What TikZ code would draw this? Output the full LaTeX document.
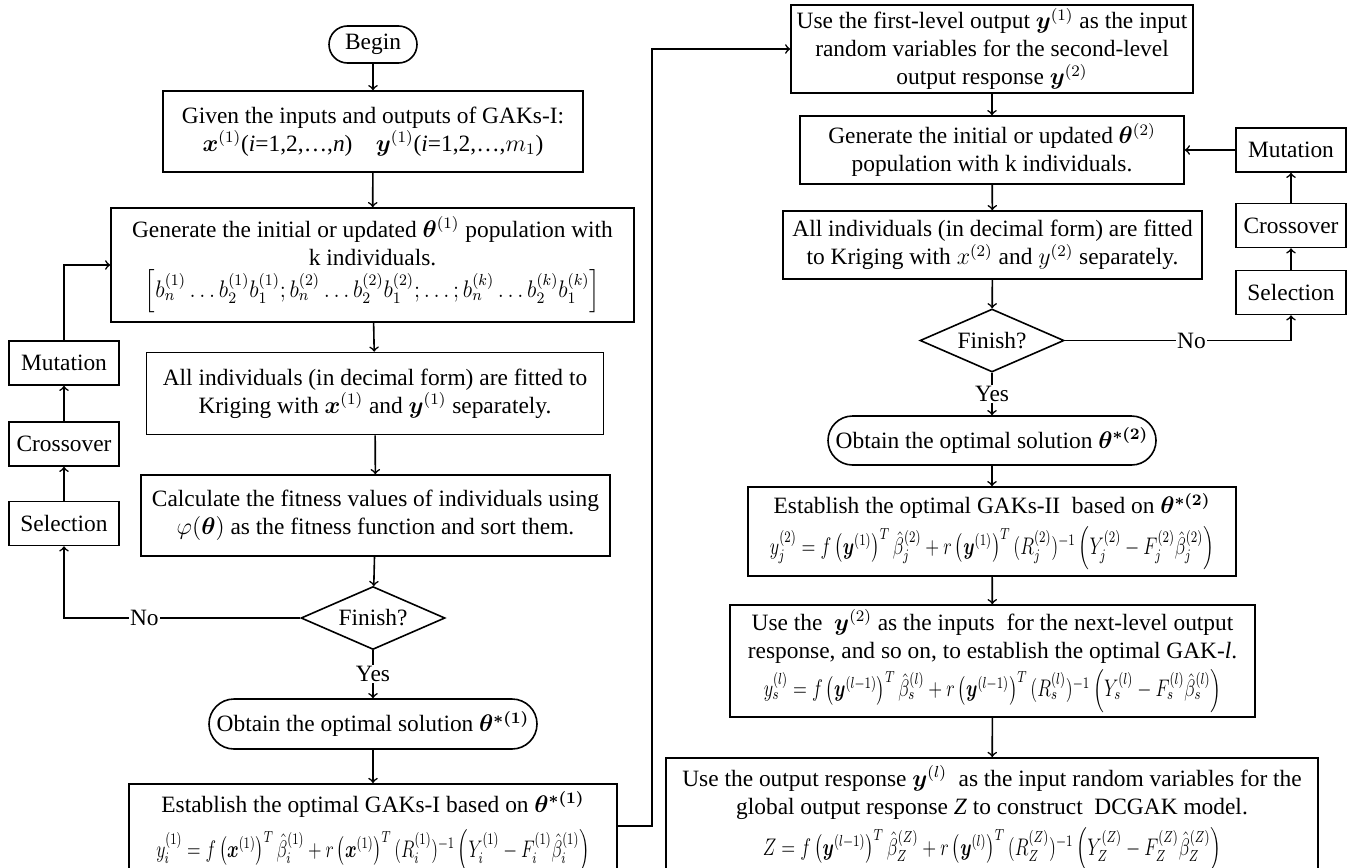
\documentclass[tikz,border=0pt]{standalone}
\usepackage{amsmath}
\usepackage{bm}
\usepackage{graphicx}
\usepackage{fontspec}
\setmainfont{Liberation Serif}
\usetikzlibrary{arrows,shapes.geometric,shapes.misc}
\newcommand{\narrowfm}[2][0.76]{\scalebox{#1}[1]{#2}}

\begin{document}
\begin{tikzpicture}[x=0.5pt,y=-0.5pt,line width=0.8pt,>=to,
            box/.style={draw,align=center,inner sep=1pt,font=\fontsize{11.7}{14}\selectfont},
            term/.style={draw,rounded rectangle,inner sep=1pt,font=\fontsize{11.7}{14}\selectfont},
            test/.style={draw,diamond,aspect=2.3,inner sep=0pt,minimum width=72pt,minimum height=31.5pt,font=\fontsize{11.7}{14}\selectfont},
            ga/.style={box,minimum width=55pt,minimum height=22pt},
            lbl/.style={fill=white,inner sep=0.5pt,font=\fontsize{11.7}{14}\selectfont}]
            \clip (0,0) rectangle (1352,867);
            \node[term, minimum width=46pt, minimum height=18.5pt] at (373,44.5) (b) {Begin};
            \node[box, minimum width=210pt, minimum height=40.5pt] at (373,131.5) (g1) {Given the inputs and outputs of GAKs-I:\\
                $\bm{x}^{(1)}$(\textit{i}=1,2,\ldots,\textit{n})\quad $\bm{y}^{(1)}$(\textit{i}=1,2,\ldots,$m_1$)};
            \node[box, minimum width=261.5pt, minimum height=57pt] at (372.5,265) (p1) {Generate the initial or updated $\bm{\theta}^{(1)}$ population with\\
                k individuals.\\[2pt]
                \narrowfm[0.93]{$\left[b_n^{(1)}\ldots b_2^{(1)}b_1^{(1)};b_n^{(2)}\ldots b_2^{(2)}b_1^{(2)};\ldots;b_n^{(k)}\ldots b_2^{(k)}b_1^{(k)}\right]$}};
            \node[box, minimum width=228.5pt, minimum height=41pt] at (375,393.5) (f1) {All individuals (in decimal form) are fitted to\\
                Kriging with $\bm{x}^{(1)}$ and $\bm{y}^{(1)}$ separately.};
            \node[box, minimum width=234.5pt, minimum height=40.5pt] at (375.5,515.5) (c1) {Calculate the fitness values of individuals using\\
                $\varphi(\bm{\theta})$ as the fitness function and sort them.};
            \node[test] at (373,618) (d1) {Finish?};
            \node[term, minimum width=166pt, minimum height=25pt] at (373,724) (o1) {Obtain the optimal solution $\bm{\theta}^{\bm{*(1)}}$};
            \node[box, anchor=north, minimum width=244pt, minimum height=50pt, inner ysep=4pt] at (373,783) (e1) {Establish the optimal GAKs-I based on $\bm{\theta}^{\bm{*(1)}}$\\[5pt]
                \narrowfm[0.74]{$y_i^{(1)}=f\left(\bm{x}^{(1)}\right)^T\hat{\beta}_i^{(1)}+r\left(\bm{x}^{(1)}\right)^T(R_i^{(1)})^{-1}\left(Y_i^{(1)}-F_i^{(1)}\hat{\beta}_i^{(1)}\right)$}\\[8pt]};
            \node[ga] at (64,363) (m1) {Mutation};
            \node[ga] at (64,444) (x1) {Crossover};
            \node[ga] at (64,523.5) (s1) {Selection};
            \coordinate (t1) at (652,826);
            \node[box, minimum width=201pt, minimum height=44pt] at (992,49) (u1) {Use the first-level output $\bm{y}^{(1)}$ as the input\\
                random variables for the second-level\\
                output response $\bm{y}^{(2)}$};
            \node[box, minimum width=192pt, minimum height=34pt] at (992,150) (p2) {Generate the initial or updated $\bm{\theta}^{(2)}$\\
                population with k individuals.};
            \node[box, minimum width=209.5pt, minimum height=34pt] at (992.5,245) (f2) {All individuals (in decimal form) are fitted\\
                to Kriging with $x^{(2)}$ and $y^{(2)}$ separately.};
            \node[test] at (992,340.5) (d2) {Finish?};
            \node[term, minimum width=166pt, minimum height=24.5pt] at (992,440.5) (o2) {Obtain the optimal solution $\bm{\theta}^{\bm{*(2)}}$};
            \node[box, minimum width=244pt, minimum height=44.5pt] at (992,531.5) (e2) {Establish the optimal GAKs-II\ \ based on $\bm{\theta}^{\bm{*(2)}}$\\[3pt]
                \narrowfm{$y_j^{(2)}=f\left(\bm{y}^{(1)}\right)^T\hat{\beta}_j^{(2)}+r\left(\bm{y}^{(1)}\right)^T(R_j^{(2)})^{-1}\left(Y_j^{(2)}-F_j^{(2)}\hat{\beta}_j^{(2)}\right)$}};
            \node[box, minimum width=262.5pt, minimum height=56pt] at (992.5,661) (u2) {Use the\ \ $\bm{y}^{(2)}$ as the inputs\ \ for the next-level output\\
                response, and so on, to establish the optimal GAK-\textit{l}.\\[2pt]
                \narrowfm{$y_s^{(l)}=f\left(\bm{y}^{(l-1)}\right)^T\hat{\beta}_s^{(l)}+r\left(\bm{y}^{(l-1)}\right)^T(R_s^{(l)})^{-1}\left(Y_s^{(l)}-F_s^{(l)}\hat{\beta}_s^{(l)}\right)$}};
            \node[box, anchor=north, minimum width=326pt, minimum height=60pt, inner ysep=4pt] at (992,757) (z) {Use the output response $\bm{y}^{(l)}$\ \ as the input random variables for the\\
                global output response \textit{Z} to construct\ \ DCGAK model.\\[3pt]
                \narrowfm{$Z=f\left(\bm{y}^{(l-1)}\right)^T\hat{\beta}_Z^{(Z)}+r\left(\bm{y}^{(l)}\right)^T(R_Z^{(Z)})^{-1}\left(Y_Z^{(Z)}-F_Z^{(Z)}\hat{\beta}_Z^{(Z)}\right)$}\\[8pt]};
            \node[ga] at (1291,150) (m2) {Mutation};
            \node[ga] at (1291,225.5) (x2) {Crossover};
            \node[ga] at (1291,292.5) (s2) {Selection};
            \draw[->] (b)--(g1);
            \draw[->] (g1)--(p1);
            \draw[->] (p1)--(f1);
            \draw[->] (f1)--(c1);
            \draw[->] (c1)--(d1);
            \draw[->] (d1)--node[lbl] {Yes} (o1);
            \draw[->] (o1)--(e1);
            \draw[->] (d1.west)--node[lbl,pos=0.66] {No} (d1.west-|s1)--(s1);
            \draw[->] (s1)--(x1);
            \draw[->] (x1)--(m1);
            \draw[->] (m1)|-(p1);
            \draw[->] (e1.east|-t1)--(t1)|-(u1);
            \draw[->] (u1)--(p2);
            \draw[->] (p2)--(f2);
            \draw[->] (f2)--(d2);
            \draw[->] (d2)--node[lbl] {Yes} (o2);
            \draw[->] (o2)--(e2);
            \draw[->] (e2)--(u2);
            \draw[->] (u2)--(z);
            \draw[->] (d2.east)--node[lbl,pos=0.56] {No} (d2.east-|s2)--(s2);
            \draw[->] (s2)--(x2);
            \draw[->] (x2)--(m2);
            \draw[->] (m2)--(p2);
        \end{tikzpicture}
\end{document}
